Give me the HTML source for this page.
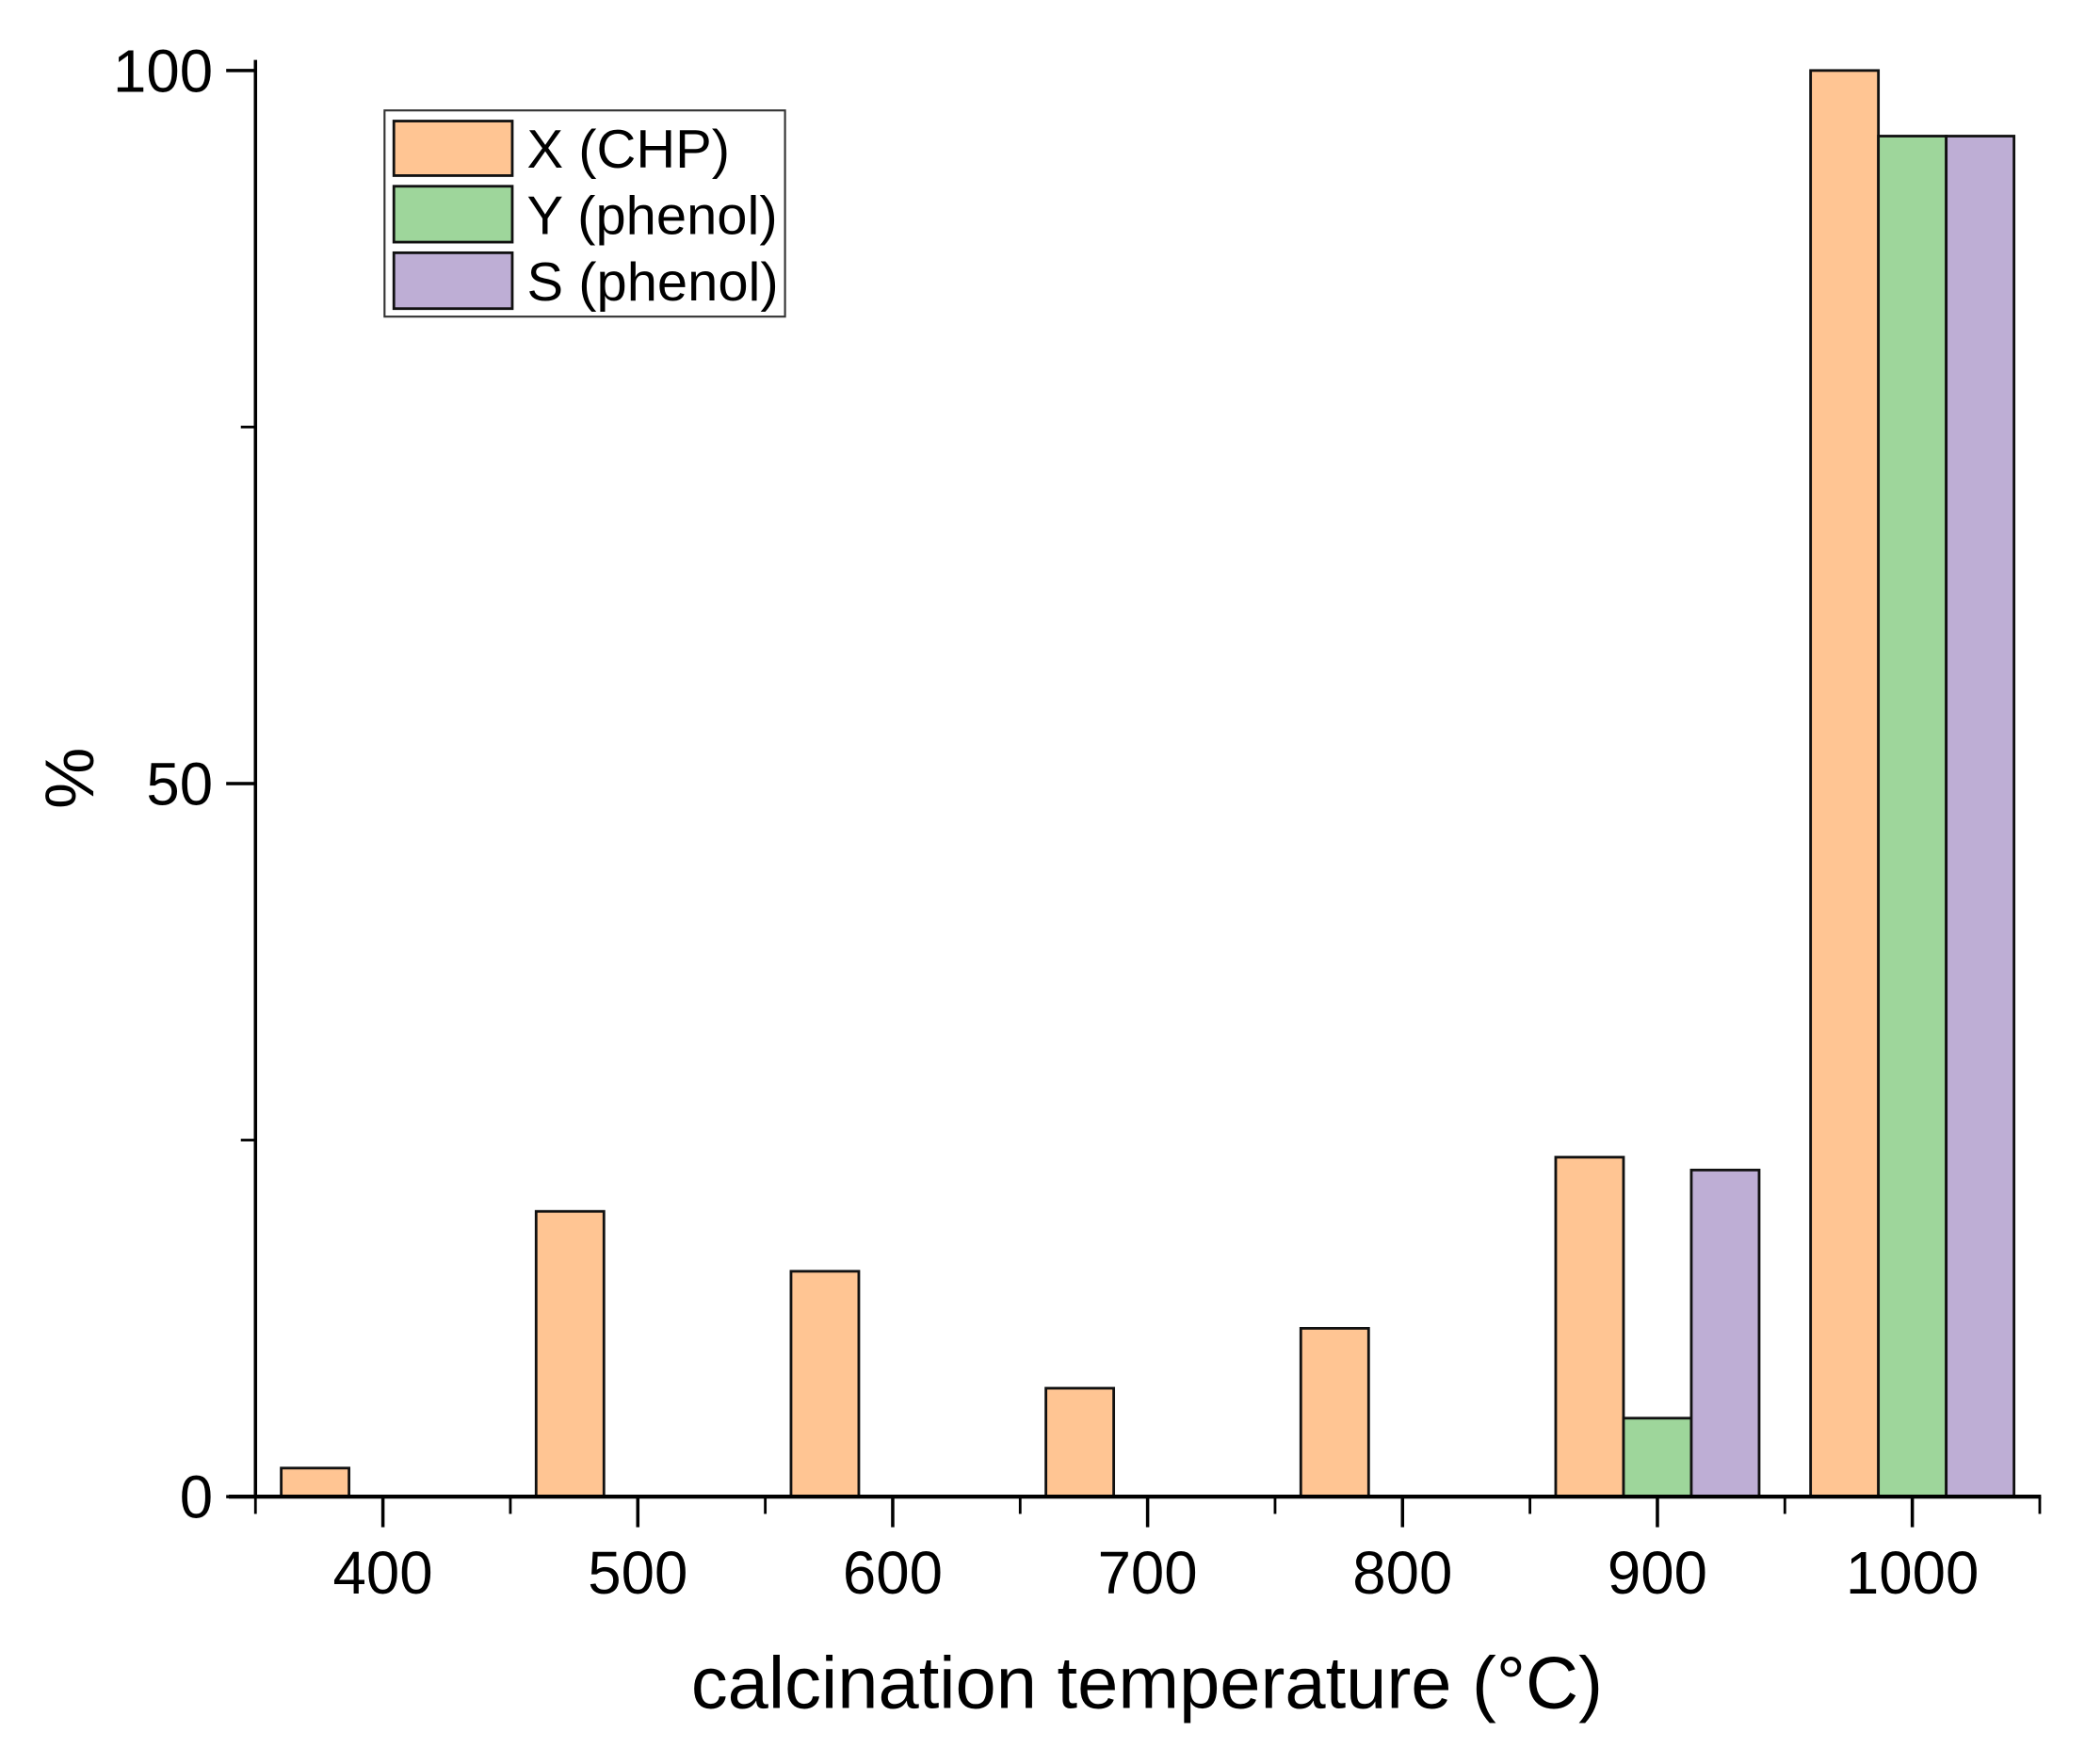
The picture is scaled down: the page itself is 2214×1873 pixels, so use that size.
<!DOCTYPE html>
<html><head><meta charset="utf-8"><style>
html,body{margin:0;padding:0;background:#fff;}
svg{display:block;font-family:"Liberation Sans",Arial,sans-serif;}
</style></head><body>
<svg id="chart" width="2214" height="1873" viewBox="0 0 1567 1326" preserveAspectRatio="none" xmlns="http://www.w3.org/2000/svg">
<g id="bars"></g>
<g id="axes"></g>
<text x="862" y="1284" font-size="55" text-anchor="middle">calcination temperature (°C)</text>
<text transform="translate(70,585) rotate(-90)" font-size="52" text-anchor="middle">%</text>
<g>
<rect x="289" y="83" width="301" height="155" fill="#fff" stroke="#333" stroke-width="1.5"/>
<rect x="296" y="91" width="89" height="41" fill="#FFC593" stroke="#111" stroke-width="2"/>
<text x="396" y="126" font-size="41">X (CHP)</text>
<rect x="296" y="140" width="89" height="42" fill="#9ED69B" stroke="#111" stroke-width="2"/>
<text x="396" y="176" font-size="41">Y (phenol)</text>
<rect x="296" y="190" width="89" height="42" fill="#BEAED5" stroke="#111" stroke-width="2"/>
<text x="396" y="226" font-size="41">S (phenol)</text>
</g>
</svg>
<script>
const categories = [400, 500, 600, 700, 800, 900, 1000];
const seriesX = [2.0, 20.0, 15.8, 7.6, 11.8, 23.8, 100];
const seriesY = [0, 0, 0, 0, 0, 5.5, 95.4];
const seriesS = [0, 0, 0, 0, 0, 22.9, 95.4];
const yTicks = [0, 50, 100];
const yMinorTicks = [25, 75];
const xMinorTicks = [350, 450, 550, 650, 750, 850, 950, 1050];

const NS = 'http://www.w3.org/2000/svg';
const xs = v => 192 + (v - 350) * (1533 - 192) / 700;
const ys = v => 1125 - v * (1125 - 53) / 100;
const barW = 26.6;

function mk(tag, attrs, parent) {
  const e = document.createElementNS(NS, tag);
  for (const k in attrs) e.setAttribute(k, attrs[k]);
  parent.appendChild(e);
  return e;
}
const bars = document.getElementById('bars');
const series = [[seriesX, '#FFC593', 'x'], [seriesY, '#9ED69B', 'y'], [seriesS, '#BEAED5', 's']];
categories.forEach((c, i) => {
  series.forEach(([arr, col, nm], j) => {
    const v = arr[i];
    if (!v) return;
    const x0 = xs(c + (j - 1.5) * barW), x1 = xs(c + (j - 0.5) * barW);
    const r = mk('rect', {x: x0, y: ys(v), width: x1 - x0, height: ys(0) - ys(v), fill: col, stroke: '#111', 'stroke-width': 2}, bars);
    
    
  });
});
const axes = document.getElementById('axes');
const ya = mk('line', {x1: 192, y1: 45, x2: 192, y2: 1126, stroke: '#000', 'stroke-width': 2.5}, axes);


const xa = mk('line', {x1: 172, y1: 1125, x2: 1534, y2: 1125, stroke: '#000', 'stroke-width': 3}, axes);


yTicks.forEach(t => {
  mk('line', {x1: 170, y1: ys(t), x2: 192, y2: ys(t), stroke: '#000', 'stroke-width': 2.5}, axes);
  const tx = mk('text', {x: 160, y: ys(t) + 16, 'font-size': 45, 'text-anchor': 'end'}, axes);
  tx.textContent = t;
  
  
});
yMinorTicks.forEach(t => {
  mk('line', {x1: 181, y1: ys(t), x2: 192, y2: ys(t), stroke: '#000', 'stroke-width': 2}, axes);
});
categories.forEach(c => {
  mk('line', {x1: xs(c), y1: 1125, x2: xs(c), y2: 1148, stroke: '#000', 'stroke-width': 2.5}, axes);
  const tx = mk('text', {x: xs(c), y: 1198, 'font-size': 45, 'text-anchor': 'middle'}, axes);
  tx.textContent = c;
  
  
});
xMinorTicks.forEach(t => {
  mk('line', {x1: xs(t), y1: 1125, x2: xs(t), y2: 1138, stroke: '#000', 'stroke-width': 2}, axes);
});
</script>
</body></html>
